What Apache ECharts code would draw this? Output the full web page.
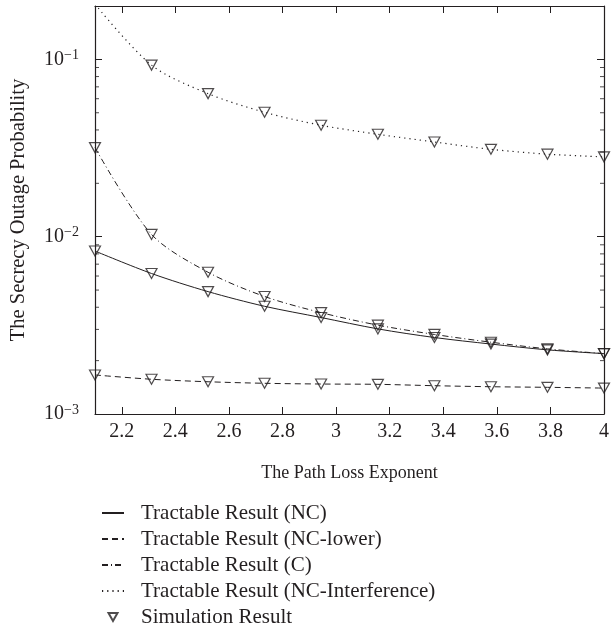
<!DOCTYPE html>
<html><head><meta charset="utf-8">
<script src="https://cdn.jsdelivr.net/npm/echarts@6/dist/echarts.min.js"></script>
<style>html,body{margin:0;padding:0;background:#fff}#c{width:612px;height:637px}</style>
</head><body><div id="c"></div>
<script>
// ---- data ----
const xValues = [2.1, 2.311, 2.522, 2.733, 2.944, 3.156, 3.367, 3.578, 3.789, 4.0];
const ncValues = [0.0083, 0.0062, 0.0049, 0.00405, 0.0035, 0.00302, 0.0027, 0.00248, 0.0023, 0.00219];
const ncLowerValues = [0.00166, 0.00157, 0.00152, 0.00149, 0.001476, 0.00147, 0.001444, 0.001425, 0.001414, 0.0014];
const cValues = [0.0318, 0.0103, 0.0063, 0.0046, 0.00373, 0.00317, 0.00281, 0.00254, 0.00233, 0.00219];
const interfValues = [0.205, 0.0928, 0.0641, 0.0503, 0.0425, 0.0378, 0.0342, 0.0311, 0.0292, 0.0282];
const simNC = ncValues, simNCLower = ncLowerValues, simC = cValues, simInterf = interfValues;
const seriesNames = ['Tractable Result (NC)', 'Tractable Result (NC-lower)', 'Tractable Result (C)', 'Tractable Result (NC-Interference)', 'Simulation Result'];
const xAxisName = 'The Path Loss Exponent';
const yAxisName = 'The Secrecy Outage Probability';
const yMinorTicks = [0.002,0.003,0.004,0.005,0.006,0.007,0.008,0.009,0.02,0.03,0.04,0.05,0.06,0.07,0.08,0.09];
const xMin = 2.1, xMax = 4, yMin = 0.001, yMax = 0.2;

const INK = '#231f20';
const FONT = '"Liberation Serif", "Times New Roman", serif';
const pair = arr => xValues.map((x, i) => [x, arr[i]]);

function xLabel(v) {
  return Math.abs(v * 5 - Math.round(v * 5)) < 1e-6 ? String(+v.toFixed(1)) : '';
}
function yLabel(v) {
  const e = Math.log10(v);
  if (Math.abs(e - Math.round(e)) > 1e-6) return '';
  return '{b|10}{s|\u2212' + Math.abs(Math.round(e)) + '}';
}

const chart = echarts.init(document.getElementById('c'), null, {renderer: 'canvas'});
const lineBase = (name, arr, type, w) => ({
  name, type: 'line', data: pair(arr), xAxisIndex: 0, yAxisIndex: 0,
  symbol: 'none', smooth: 0.3, clip: true, silent: true,
  lineStyle: {color: INK, width: w || 1, type}, itemStyle: {color: INK}, z: 3
});
const triPath = 'path://M0,0 L10,0 L5,9 Z';
const simBase = (arr) => ({
  name: 'Simulation Result', type: 'scatter', data: pair(arr), xAxisIndex: 0, yAxisIndex: 0,
  symbol: triPath, symbolSize: [11, 10], clip: true, silent: true,
  itemStyle: {color: 'rgba(255,255,255,0)', borderColor: INK, borderWidth: 1.2}, z: 5
});
const tickBase = (x, off) => ({
  type: 'scatter', data: yMinorTicks.map(v => [x, v]), xAxisIndex: 0, yAxisIndex: 0,
  symbol: 'rect', symbolSize: [4, 1], symbolOffset: [off, 0], silent: true, clip: false,
  itemStyle: {color: INK}, z: 2
});

const axisCommon = {
  axisLine: {show: true, lineStyle: {color: INK, width: 1.2}},
  axisTick: {show: true, inside: true, length: 7, lineStyle: {color: INK, width: 1}},
  splitLine: {show: false}
};
const hideSym = {color: 'rgba(0,0,0,0)', borderColor: 'rgba(0,0,0,0)', borderWidth: 0, opacity: 0};

chart.setOption({
  animation: false,
  backgroundColor: '#fff',
  grid: {left: 89, right: 7, top: 6, bottom: 223, containLabel: false},
  xAxis: [
    Object.assign({type: 'value', min: xMin, max: xMax, splitNumber: 10, position: 'bottom',
      name: xAxisName, nameLocation: 'middle', nameGap: 50,
      nameTextStyle: {fontSize: 18, fontFamily: FONT, color: INK},
      axisLabel: {formatter: xLabel, fontSize: 20, fontFamily: FONT, color: INK, margin: 8}}, axisCommon),
    Object.assign({type: 'value', min: xMin, max: xMax, splitNumber: 10, position: 'top',
      axisLabel: {show: false}}, axisCommon)
  ],
  yAxis: [
    Object.assign({type: 'log', logBase: 10, min: yMin, max: yMax, position: 'left',
      name: yAxisName, nameLocation: 'middle', nameGap: 66, nameRotate: 90,
      nameTextStyle: {fontSize: 20.5, fontFamily: FONT, color: INK},
      axisLabel: {formatter: yLabel, margin: 16, color: INK,
        rich: {b: {fontSize: 20, fontFamily: FONT, color: INK, lineHeight: 22},
               s: {fontSize: 14, fontFamily: FONT, color: INK, verticalAlign: 'top', lineHeight: 12}}}}, axisCommon),
    Object.assign({type: 'log', logBase: 10, min: yMin, max: yMax, position: 'right',
      axisLabel: {show: false}}, axisCommon)
  ],
  legend: {
    orient: 'vertical', left: 96, top: 496, itemWidth: 22, itemHeight: 14, itemGap: 2,
    textStyle: {fontSize: 21, fontFamily: FONT, color: INK, lineHeight: 24, padding: [0, 0, 0, 12]},
    selectedMode: false,
    data: [
      {name: seriesNames[0], itemStyle: hideSym},
      {name: seriesNames[1], itemStyle: hideSym},
      {name: seriesNames[2], itemStyle: hideSym},
      {name: seriesNames[3], itemStyle: hideSym},
      {name: seriesNames[4], icon: 'path://M0,0 M22,14 M6.5,3 L15.5,3 L11,11 Z'}]
  },
  series: [
    lineBase(seriesNames[0], ncValues, 'solid'),
    lineBase(seriesNames[1], ncLowerValues, [6, 4]),
    lineBase(seriesNames[2], cValues, [6, 3, 1, 3]),
    lineBase(seriesNames[3], interfValues, [1.2, 4], 1.2),
    simBase(simNC), simBase(simNCLower), simBase(simC), simBase(simInterf),
    tickBase(xMin, 2), tickBase(xMax, -2)
  ]
});
</script></body></html>
